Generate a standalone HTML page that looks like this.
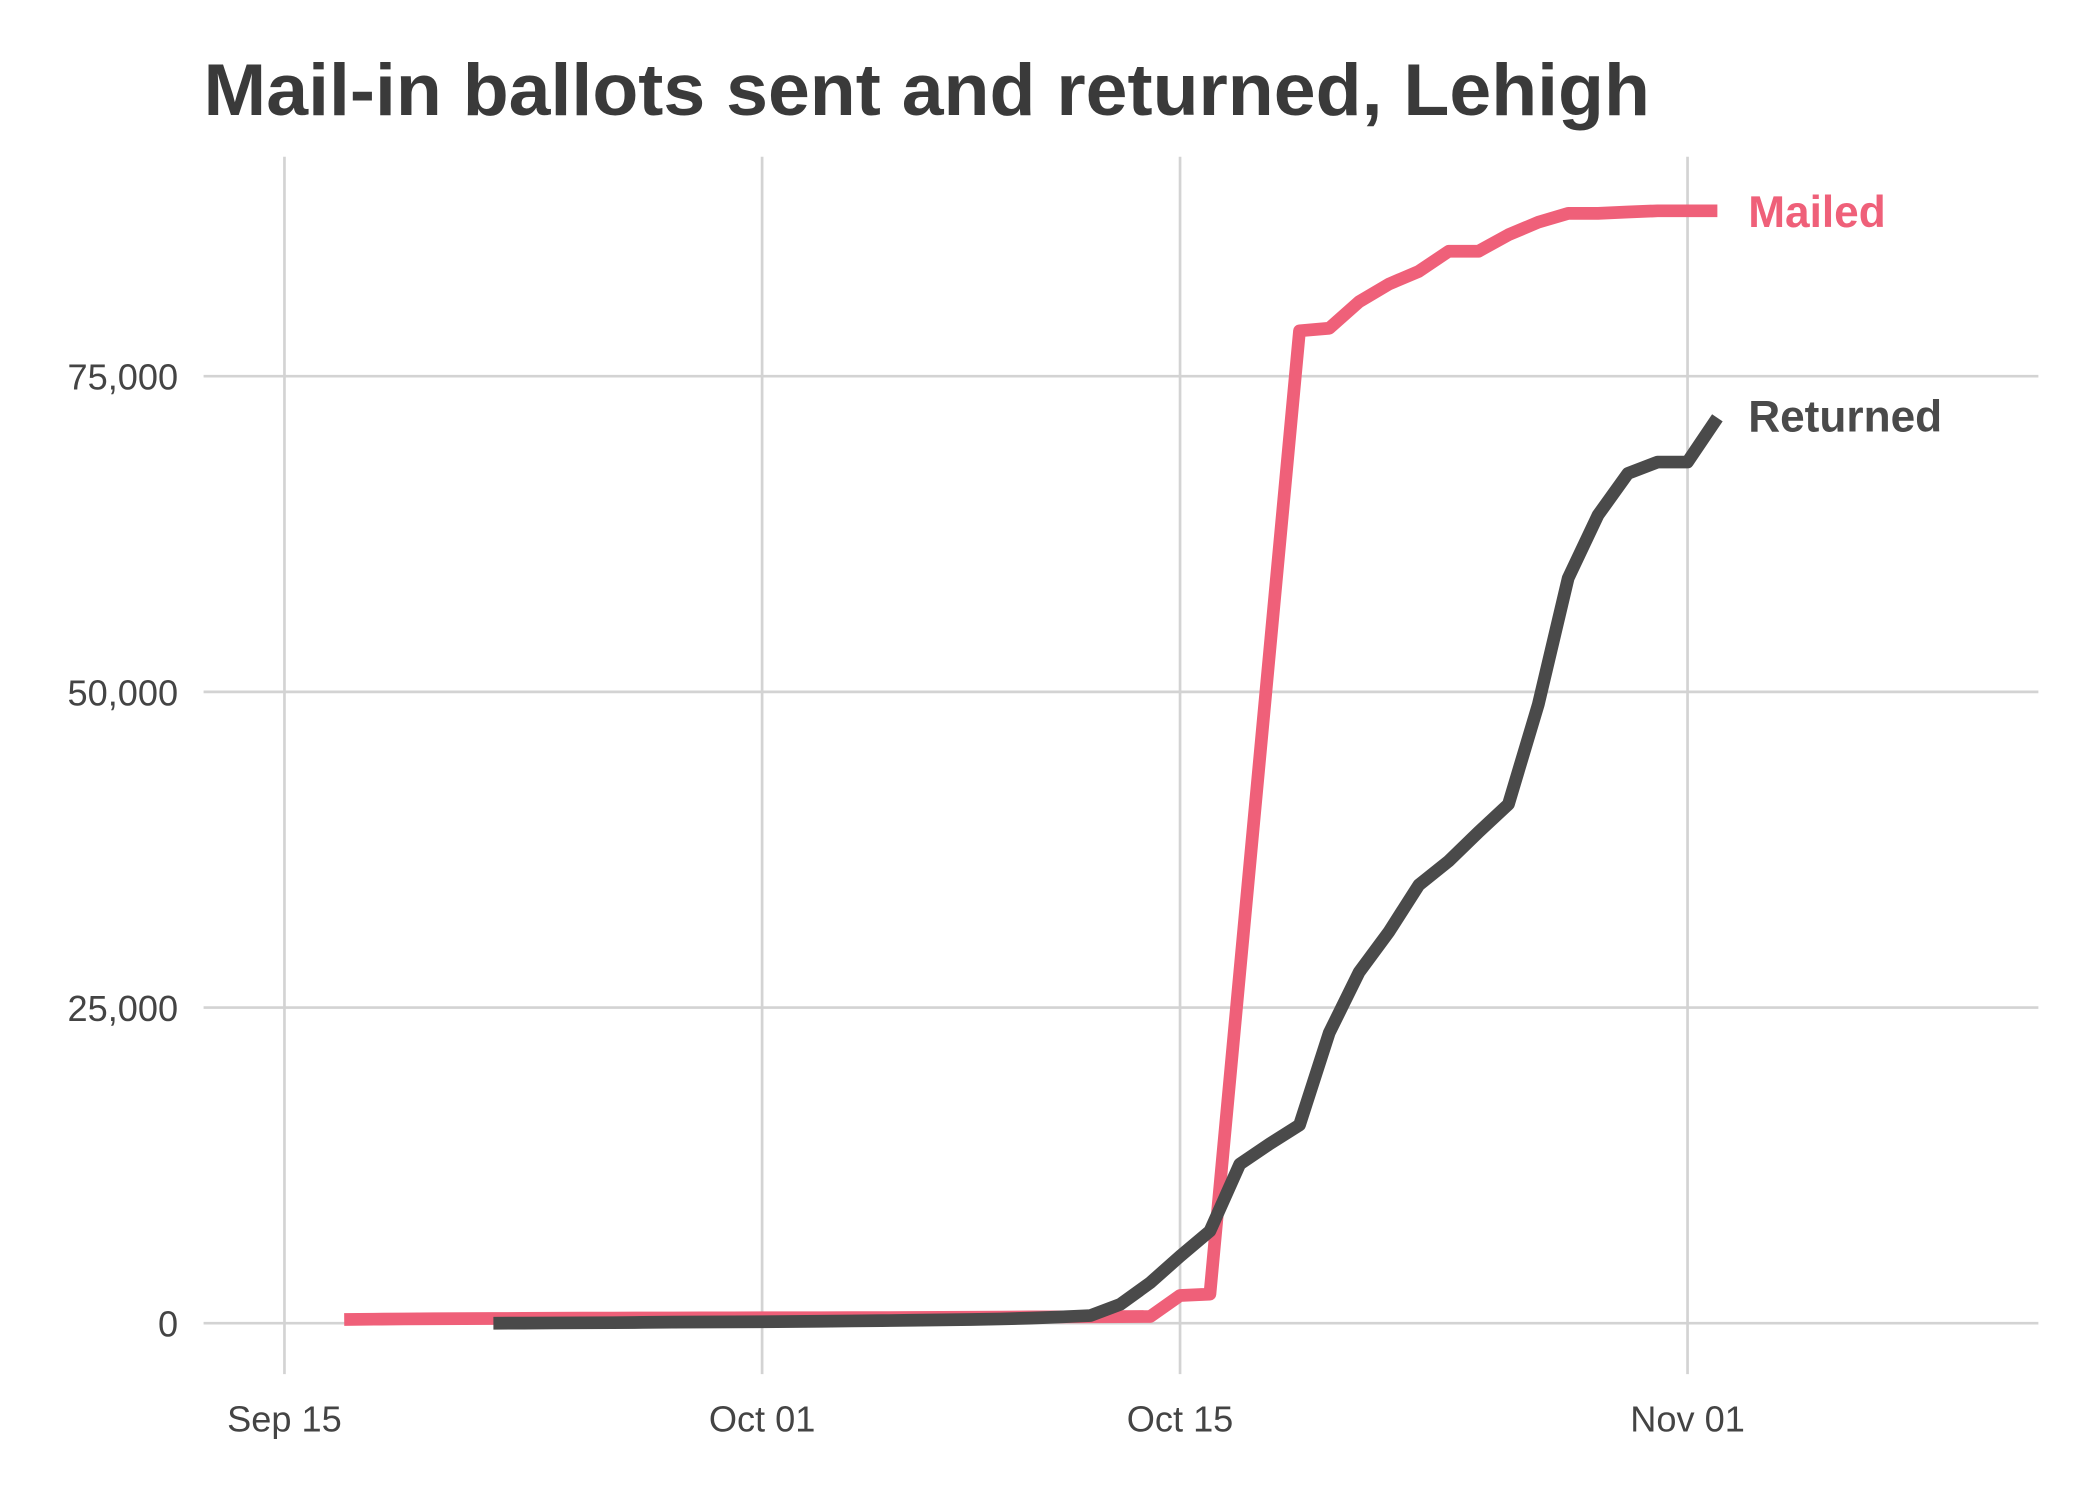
<!DOCTYPE html>
<html><head><meta charset="utf-8"><style>
html,body{margin:0;padding:0;background:#fff;}
svg{display:block;font-family:"Liberation Sans",sans-serif;}
</style></head><body>
<svg id="chart" width="2100" height="1500" viewBox="0 0 1568 1120" preserveAspectRatio="none" xmlns="http://www.w3.org/2000/svg">
<rect width="1568" height="1120" fill="#fff"/>
<text x="152" y="86" font-size="55" font-weight="bold" fill="#3a3a3a" textLength="1080" lengthAdjust="spacingAndGlyphs">Mail-in ballots sent and returned, Lehigh</text>
<g id="grid"></g>
<g id="axes"></g>
<g id="series"></g>
</svg>
<script>
const yTicks = [0, 25000, 50000, 75000];
const yTickLabels = ["0", "25,000", "50,000", "75,000"];
const xTickDates = ["2020-09-15", "2020-10-01", "2020-10-15", "2020-11-01"];
const xTickLabels = ["Sep 15", "Oct 01", "Oct 15", "Nov 01"];
const mailedStart = "2020-09-17";
const mailedValues = [300,320,340,350,360,370,380,390,400,400,410,410,420,420,430,430,440,450,450,460,470,480,490,500,500,510,520,530,2200,2300,27800,53200,78600,78800,80900,82300,83300,84900,84900,86200,87200,87900,87900,88000,88100,88100,88100];
const returnedStart = "2020-09-22";
const returnedValues = [0,10,20,30,40,60,80,100,110,120,140,160,180,200,230,260,300,340,400,500,600,1500,3200,5300,7300,12600,14200,15700,23000,27800,31000,34700,36600,38900,41100,49000,59000,64000,67300,68200,68200,71700];

const NS = "http://www.w3.org/2000/svg";
const DAY = 86400000;
const t0 = Date.parse("2020-09-15T00:00:00Z");
const X0 = 212.4, PX_DAY = 22.29, Y0 = 988, PX_PER = 235.7/25000;
function xScale(dateStr){ return X0 + (Date.parse(dateStr+"T00:00:00Z") - t0)/DAY*PX_DAY; }
function xScaleIdx(start,i){ return xScale(start) + i*PX_DAY; }
function yScale(v){ return Y0 - v*PX_PER; }
function mk(tag, attrs, parent){ const e=document.createElementNS(NS,tag); for(const k in attrs) e.setAttribute(k,attrs[k]); parent.appendChild(e); return e; }

const grid=document.getElementById('grid'), axes=document.getElementById('axes'), series=document.getElementById('series');
yTicks.forEach((v,i)=>{
  const l=mk('line',{x1:152,x2:1522,y1:yScale(v),y2:yScale(v),stroke:'#d3d3d3','stroke-width':2},grid);
  
  
  const t=mk('text',{x:133,y:yScale(v)+10,'text-anchor':'end','font-size':27,fill:'#444'},axes);
  t.textContent=yTickLabels[i];
  
  
});
xTickDates.forEach((d,i)=>{
  const l=mk('line',{x1:xScale(d),x2:xScale(d),y1:117,y2:1026,stroke:'#d3d3d3','stroke-width':2},grid);
  
  
  const t=mk('text',{x:xScale(d),y:1069,'text-anchor':'middle','font-size':27,fill:'#444'},axes);
  t.textContent=xTickLabels[i];
  
  
});
function drawLine(start, vals, color, name){
  const pts=vals.map((v,i)=>xScaleIdx(start,i).toFixed(1)+','+yScale(v).toFixed(1)).join(' ');
  const p=mk('polyline',{points:pts,fill:'none',stroke:color,'stroke-width':9.5,'stroke-linejoin':'round','stroke-linecap':'butt'},series);
  
  
  return p;
}
drawLine(mailedStart, mailedValues, '#ef6079', 'mailed-line');
drawLine(returnedStart, returnedValues, '#4a4a4a', 'returned-line');
const lastX = xScaleIdx(mailedStart, mailedValues.length-1);
const m=mk('text',{x:lastX+23,y:yScale(mailedValues[mailedValues.length-1])+12,'font-size':33,'font-weight':'bold',fill:'#ef6079'},series);
m.textContent='Mailed';


const r=mk('text',{x:lastX+23,y:yScale(returnedValues[returnedValues.length-1])+10,'font-size':33,'font-weight':'bold',fill:'#4a4a4a'},series);
r.textContent='Returned';


</script>
</body></html>
